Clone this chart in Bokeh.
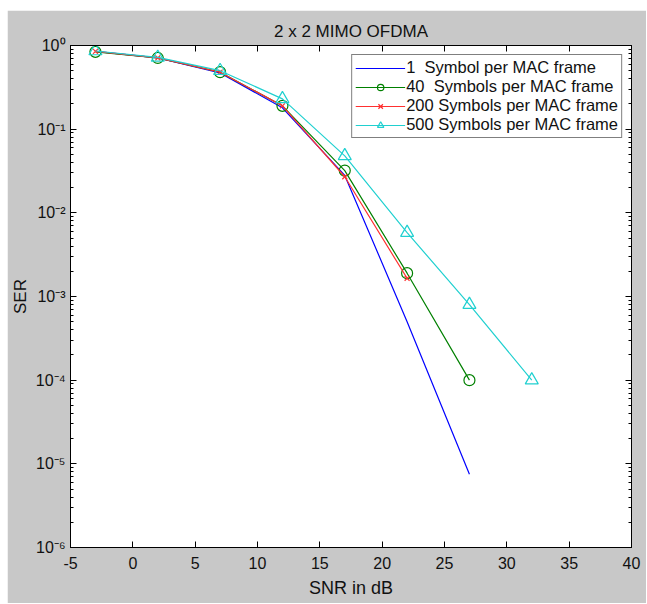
from bokeh.plotting import figure
from bokeh.models import (LinearAxis, LogAxis, FixedTicker, CustomJSTickFormatter,
                          Range1d, Legend, LegendItem, Title, CustomLabelingPolicy, Spacer)
from bokeh.layouts import column, row
from bokeh.embed import file_html
from bokeh.resources import INLINE

# ---- data ----
snr_1 = [-3, 2, 7, 12, 17, 22, 27]
ser_1 = [0.85, 0.71, 0.47, 0.18, 0.028, 5.0e-4, 7.5e-6]
snr_40 = [-3, 2, 7, 12, 17, 22, 27]
ser_40 = [0.84, 0.71, 0.48, 0.19, 0.032, 1.9e-3, 1.0e-4]
snr_200 = [-3, 2, 7, 12, 17, 22]
ser_200 = [0.85, 0.71, 0.48, 0.19, 0.027, 1.65e-3]
snr_500 = [-3, 2, 7, 12, 17, 22, 27, 32]
ser_500 = [0.86, 0.72, 0.50, 0.23, 0.048, 5.8e-3, 8.0e-4, 1.0e-4]
labels = ["1  Symbol per MAC frame", "40  Symbols per MAC frame",
          "200 Symbols per MAC frame", "500 Symbols per MAC frame"]
x_ticks = [-5, 0, 5, 10, 15, 20, 25, 30, 35, 40]
y_ticks = [1e-6, 1e-5, 1e-4, 1e-3, 1e-2, 1e-1, 1e0]
y_minor = [m * d for d in [1e-6, 1e-5, 1e-4, 1e-3, 1e-2, 1e-1] for m in range(2, 10)]

FONT = "Liberation Sans"
GREY = "#c8c8c8"
INK = "#111111"

p = figure(frame_width=561, frame_height=502, output_backend="svg", toolbar_location=None,
           y_axis_type="log", x_range=Range1d(-5, 40), y_range=Range1d(1e-6, 1),
           min_border_left=63, min_border_right=15, min_border_top=35, min_border_bottom=56,
           border_fill_color=GREY, background_fill_color="white",
           outline_line_color="black", outline_line_width=1)

p.title = Title(text="2 x 2 MIMO OFDMA", align="center", text_font=FONT,
                text_font_size="17px", text_font_style="normal", text_color=INK,
                standoff=10)
p.grid.visible = False

yfmt = CustomJSTickFormatter(code="""
const s = {'-':'\u207b','0':'\u2070','1':'\u00b9','2':'\u00b2','3':'\u00b3','4':'\u2074',
           '5':'\u2075','6':'\u2076','7':'\u2077','8':'\u2078','9':'\u2079'};
const e = Math.round(Math.log10(tick));
return '10' + String(e).split('').map(c => s[c]).join('');
""")
xfmt = CustomJSTickFormatter(code="return String(tick);")
blank = CustomJSTickFormatter(code="return '';")

def style(ax, show_labels=True):
    ax.axis_line_color = "black"
    ax.major_tick_line_color = "black"
    ax.minor_tick_line_color = "black"
    ax.major_tick_in = 6
    ax.major_tick_out = 0
    ax.minor_tick_in = 3
    ax.minor_tick_out = 0
    ax.major_label_text_font = FONT
    ax.major_label_text_font_size = "16px" if show_labels else "1px"
    ax.major_label_text_color = INK
    ax.axis_label_text_font = FONT
    ax.axis_label_text_font_size = "18px"
    ax.axis_label_text_font_style = "normal"
    ax.axis_label_text_color = INK
    if not show_labels:
        ax.formatter = blank
        ax.major_label_standoff = 0
        ax.major_label_policy = CustomLabelingPolicy(code="return []")

xt = FixedTicker(ticks=x_ticks, minor_ticks=[])
yt = FixedTicker(ticks=y_ticks, minor_ticks=y_minor)

p.xaxis.ticker = xt
p.xaxis.formatter = xfmt
p.xaxis.axis_label = "SNR in dB"
style(p.xaxis[0])
p.xaxis.major_label_standoff = 9
p.xaxis.axis_label_standoff = 6

p.yaxis.ticker = yt
p.yaxis.formatter = yfmt
p.yaxis.axis_label = "SER"
style(p.yaxis[0])
p.yaxis.axis_label_text_font_size = "17px"
p.yaxis.major_label_standoff = 5
p.yaxis.axis_label_standoff = 3

top = LinearAxis(ticker=xt)
style(top, False)
p.add_layout(top, "above")
right = LogAxis(ticker=yt)
style(right, False)
p.add_layout(right, "right")

lw = 1.2
r1 = p.line(snr_1, ser_1, color="#0000ff", line_width=lw)
l2 = p.line(snr_40, ser_40, color="#008000", line_width=lw)
m2 = p.scatter(snr_40, ser_40, marker="circle", size=11, line_color="#008000",
               fill_color=None, line_width=lw)
l3 = p.line(snr_200, ser_200, color="#ff3030", line_width=lw)
m3 = p.scatter(snr_200, ser_200, marker="x", size=7, line_color="#ff3030", line_width=lw)
l4 = p.line(snr_500, ser_500, color="#20d0d0", line_width=lw)
m4 = p.scatter(snr_500, ser_500, marker="triangle", size=13, line_color="#20d0d0",
               fill_color=None, line_width=lw)

legend = Legend(items=[
    LegendItem(label=labels[0], renderers=[r1]),
    LegendItem(label=labels[1], renderers=[l2, m2]),
    LegendItem(label=labels[2], renderers=[l3, m3]),
    LegendItem(label=labels[3], renderers=[l4, m4]),
], location="top_right")
legend.border_line_color = "black"
legend.border_line_width = 1
legend.background_fill_color = "white"
legend.background_fill_alpha = 1
legend.label_text_font = FONT
legend.label_text_font_size = "16.5px"
legend.label_text_color = INK
legend.glyph_width = 50
legend.glyph_height = 16
legend.label_height = 16
legend.label_standoff = 1
legend.spacing = 0
legend.padding = 3
legend.margin = 9
p.add_layout(legend, "center")

page = column(Spacer(height=10), row(Spacer(width=7), p))
open("out.html", "w").write(file_html(page, INLINE))
